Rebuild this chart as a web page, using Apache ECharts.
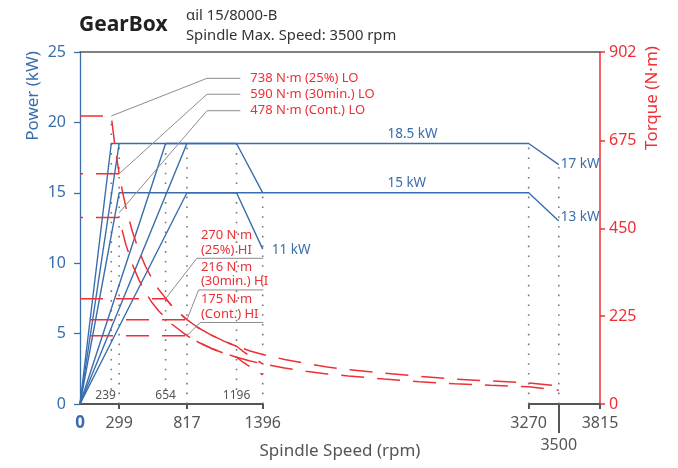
<!DOCTYPE html>
<html>
<head>
<meta charset="utf-8">
<script src="https://cdn.jsdelivr.net/npm/echarts@6/dist/echarts.min.js"></script>
<style>
html, body { margin: 0; padding: 0; background: #fff; }
#chart { width: 678px; height: 468px; }
</style>
</head>
<body>
<div id="chart"></div>
<script>
// axes
const speedMax = 3815
const speedTicks = [299, 817, 1396, 3270, 3815]
const speedLabels = [0, 299, 817, 1396, 3270, 3815]
const maxSpeedTick = [3500]
const torqueTicks = [0, 225, 450, 675, 902]

// power curves: [rpm, kW]
const powerLo25 = [[0, 0], [239, 18.5], [3270, 18.5], [3500, 17]]
const powerLo30 = [[0, 0], [299, 18.5]]
const powerLoCont = [[0, 0], [299, 15], [3270, 15], [3500, 13]]
const powerHi25 = [[0, 0], [654, 18.5], [1196, 18.5], [1396, 15]]
const powerHi30 = [[0, 0], [817, 18.5]]
const powerHiCont = [[0, 0], [817, 15], [1196, 15], [1396, 11]]

// torque curves: [rpm, N·m] (25% curves join the 30min. ones where they meet)
const torqueLo25 = [[0, 738], [239, 738], [250, 707], [270, 654], [299, 590]]
const torqueLo30 = [[0, 590], [299, 590], [325, 544], [350, 505], [400, 442], [450, 393], [500, 353], [550, 321],
  [600, 294], [700, 252], [817, 216], [900, 196], [1000, 177], [1100, 161], [1196, 148], [1300, 136], [1396, 127],
  [1550, 114], [1700, 104], [1850, 95], [2000, 88], [2250, 79], [2500, 71], [2750, 64], [3000, 59], [3270, 54], [3500, 46]]
const torqueLoCont = [[0, 478], [299, 478], [325, 441], [350, 409], [400, 358], [450, 318], [500, 286], [550, 260],
  [600, 239], [700, 205], [817, 175], [900, 159], [1000, 143], [1100, 130], [1196, 120], [1300, 110], [1396, 103],
  [1550, 92], [1700, 84], [1850, 77], [2000, 72], [2250, 64], [2500, 57], [2750, 52], [3000, 48], [3270, 44], [3500, 35]]
const torqueHi25 = [[0, 270], [654, 270], [700, 252], [750, 236], [817, 216]]
const torqueHi30 = [[0, 216], [817, 216], [900, 196], [1000, 177], [1100, 161], [1196, 148], [1246, 135],
  [1296, 123], [1346, 113], [1396, 103]]
const torqueHiCont = [[0, 175], [817, 175], [900, 159], [1000, 143], [1100, 130], [1196, 120], [1246, 107],
  [1296, 96], [1346, 85], [1396, 75]]

// dotted guides: speed, top (kW), bottom (kW)
const guideSpeeds = [239, 299, 654, 817, 1196, 1396, 3270, 3500]
const guideTops = [20.45, 18.5, 18.5, 18.5, 18.5, 15, 18.5, 17]
const guideBottoms = [1, 0, 1, 0, 1, 0, 0, 0]
const cornerTexts = ['239', '654', '1196']
const cornerSpeeds = [196, 654, 1196]

// torque callouts
const loTexts = ['738 N·m (25%) LO', '590 N·m (30min.) LO', '478 N·m (Cont.) LO']
const loFrom = [[239, 738], [299, 590], [299, 490]]
const loLevels = [23.13, 22.0, 20.83]
const loElbow = 970
const loEnd = 1225
const hiTexts = ['270 N·m\n(25%) HI', '216 N·m\n(30min.) HI', '175 N·m\n(Cont.) HI']
const hiFrom = [[654, 270], [817, 216], [817, 175]]
const hiElbows = [893, 906, 919]
const hiLevels = [10.35, 8.1, 5.79]
const hiEnd = 1400
const hiTextSpeed = 924

// power callouts
const kwTexts = ['18.5 kW', '15 kW', '17 kW', '13 kW', '11 kW']
const kwAt = [[2275, 18.5], [2275, 15], [3500, 17], [3500, 13], [1396, 11]]
const kwShift = [[0, -2, 'bottom'], [0, -2, 'bottom'], [2, 0, 'middle'], [2, -4, 'middle'], [9, 1, 'middle']]

const blue = '#3a6dad'
const red = '#ee2f36'
const grey = '#555'
const font = '"Noto Sans", sans-serif'
const speedBreaks = [{ start: 1396, end: 3270, gap: 2032 }]

function powerLine(data) {
  return { type: 'line', data, yAxisIndex: 0, symbol: 'none', silent: true, z: 3,
    lineStyle: { color: blue, width: 1.4 } }
}
function torqueLine(data, offset) {
  return { type: 'line', data, yAxisIndex: 1, symbol: 'none', silent: true, z: 4,
    lineStyle: { color: red, width: 1.5, type: [23, 13], dashOffset: offset } }
}

const guideSeries = guideSpeeds.map((s, i) => ({
  type: 'line', yAxisIndex: 0, symbol: 'none', silent: true, z: 2,
  data: [[s, guideBottoms[i]], [s, guideTops[i]]],
  lineStyle: { color: '#777', width: 1.6, type: [1.6, 8.2] },
}))

const option = {
  animation: false,
  textStyle: { fontFamily: font },
  grid: { left: 80, right: 78, top: 52, bottom: 64 },
  title: [
    { text: 'GearBox', left: 79, top: 15, padding: 0,
      textStyle: { fontSize: 21, fontWeight: 'bold', color: '#222', fontFamily: font } },
    { text: 'αil 15/8000-B\nSpindle Max. Speed: 3500 rpm', left: 186, top: 6, padding: 0,
      textStyle: { fontSize: 14.8, lineHeight: 20, fontWeight: 'normal', color: '#333', fontFamily: font } },
  ],
  xAxis: [
    {
      type: 'value', min: 0, max: speedMax, position: 'bottom',
      breaks: speedBreaks, breakArea: { show: false },
      name: 'Spindle Speed (rpm)', nameLocation: 'middle', nameGap: 39,
      nameTextStyle: { fontSize: 17, color: grey },
      axisLine: { onZero: false, lineStyle: { color: grey, width: 2 } },
      axisTick: { customValues: speedTicks, length: 5, lineStyle: { color: grey, width: 2 } },
      axisLabel: {
        customValues: speedLabels, fontSize: 16, color: grey, margin: 11,
        formatter: (v) => (v === 0 ? '{z|0}' : String(v)),
        rich: { z: { fontSize: 17, fontWeight: 'bold', color: blue } },
      },
      splitLine: { show: false },
    },
    {
      type: 'value', min: 0, max: speedMax, position: 'bottom',
      breaks: speedBreaks, breakArea: { show: false },
      axisLine: { show: false, onZero: false },
      axisTick: { customValues: maxSpeedTick, length: 29, lineStyle: { color: grey, width: 2 } },
      axisLabel: { customValues: maxSpeedTick, fontSize: 16, color: grey, margin: 33, formatter: (v) => String(v) },
      splitLine: { show: false },
    },
    {
      type: 'value', min: 0, max: speedMax, position: 'top',
      axisLine: { onZero: false, lineStyle: { color: grey, width: 1.6 } },
      axisTick: { show: false }, axisLabel: { show: false }, splitLine: { show: false },
    },
  ],
  yAxis: [
    {
      type: 'value', min: 0, max: 25, interval: 5, position: 'left',
      axisLine: { show: true, onZero: false, lineStyle: { color: blue, width: 1.3 } },
      axisTick: { show: true, length: 6, lineStyle: { color: blue, width: 1.3 } },
      axisLabel: { color: blue, fontSize: 16, margin: 14 },
      splitLine: { show: false },
    },
    {
      type: 'value', min: 0, max: 902, position: 'right',
      axisLine: { show: true, onZero: false, lineStyle: { color: red, width: 1.5 } },
      axisTick: { show: true, length: 5, customValues: torqueTicks, lineStyle: { color: red, width: 1.5 } },
      axisLabel: { customValues: torqueTicks, color: red, fontSize: 16, margin: 9 },
      splitLine: { show: false },
    },
  ],
  series: [
    ...guideSeries,
    powerLine(powerLo25), powerLine(powerLo30), powerLine(powerLoCont),
    powerLine(powerHi25), powerLine(powerHi30), powerLine(powerHiCont),
    torqueLine(torqueLo25, 0), torqueLine(torqueLo30, 20), torqueLine(torqueLoCont, 20),
    torqueLine(torqueHi25, 0), torqueLine(torqueHi30, 26), torqueLine(torqueHiCont, 26),
  ],
}

const chart = echarts.init(document.getElementById('chart'))
chart.setOption(option)

const pxP = (p) => chart.convertToPixel({ xAxisIndex: 0, yAxisIndex: 0 }, p)
const pxT = (p) => chart.convertToPixel({ xAxisIndex: 0, yAxisIndex: 1 }, p)
const leader = (pts) => ({ type: 'polyline', silent: true, z: 100, shape: { points: pts },
  style: { stroke: '#8c8c8c', lineWidth: 1, fill: null } })
const label = (x, y, text, color, size, align, valign) => ({ type: 'text', silent: true, z: 100, x, y,
  style: { text, fill: color, fontSize: size, fontFamily: font, align, verticalAlign: valign, lineHeight: 14.5 } })

const graphics = []
loTexts.forEach((t, i) => {
  const end = pxP([loEnd, loLevels[i]])
  graphics.push(leader([pxT(loFrom[i]), pxP([loElbow, loLevels[i]]), end]))
  graphics.push(label(end[0] + 10, end[1], t, red, 13, 'left', 'middle'))
})
hiTexts.forEach((t, i) => {
  graphics.push(leader([pxT(hiFrom[i]), pxP([hiElbows[i], hiLevels[i]]), pxP([hiEnd, hiLevels[i]])]))
  const at = pxP([hiTextSpeed, hiLevels[i]])
  graphics.push(label(at[0], at[1] - 1, t, red, 13, 'left', 'bottom'))
})
kwTexts.forEach((t, i) => {
  const at = pxP(kwAt[i])
  graphics.push(label(at[0] + kwShift[i][0], at[1] + kwShift[i][1], t, blue, 13.5, 'left', kwShift[i][2]))
})
cornerTexts.forEach((t, i) => {
  const at = pxP([cornerSpeeds[i], 0.57])
  graphics.push(label(at[0], at[1], t, grey, 12, 'center', 'middle'))
})
graphics.push({ type: 'text', silent: true, x: 33, y: 96, rotation: Math.PI / 2,
  style: { text: 'Power (kW)', fill: blue, fontSize: 17, fontFamily: font, align: 'center', verticalAlign: 'middle' } })
graphics.push({ type: 'text', silent: true, x: 652, y: 98, rotation: Math.PI / 2,
  style: { text: 'Torque (N·m)', fill: red, fontSize: 17, fontFamily: font, align: 'center', verticalAlign: 'middle' } })

chart.setOption({ graphic: graphics })
</script>
</body>
</html>
